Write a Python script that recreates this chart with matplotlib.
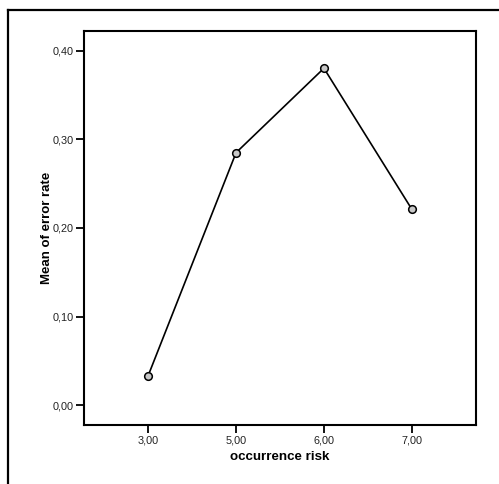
import matplotlib
matplotlib.use("Agg")
import matplotlib.pyplot as plt
from matplotlib.lines import Line2D
from matplotlib.ticker import FuncFormatter

categories = ["3,00", "5,00", "6,00", "7,00"]
mean_error_rate = [0.0334, 0.2848, 0.3800, 0.2210]
y_ticks = [0.0, 0.1, 0.2, 0.3, 0.4]

plt.rcParams['font.family'] = ['Liberation Sans', 'DejaVu Sans']

W, H = 499, 484
fig = plt.figure(figsize=(W / 100, H / 100), dpi=100)
fig.patch.set_facecolor('white')

# outer frame (left and top only visible)
fig.add_artist(Line2D([8 / W, 8 / W], [0, 1 - 10 / H], transform=fig.transFigure,
                      color='black', lw=1.6))
fig.add_artist(Line2D([8 / W, 1], [1 - 10 / H, 1 - 10 / H], transform=fig.transFigure,
                      color='black', lw=1.6))

ax_left, ax_right, ax_top, ax_bottom = 84, 476, 31, 425
ax = fig.add_axes([ax_left / W, 1 - ax_bottom / H, (ax_right - ax_left) / W, (ax_bottom - ax_top) / H])
x = list(range(len(categories)))
ax.plot(x, mean_error_rate, color='black', lw=1.2, marker='o', markersize=5.5,
        markerfacecolor='#c8c8c8', markeredgecolor='black', markeredgewidth=1.1, zorder=3)

ax.set_xlim(-0.73, 3.73)
ax.set_ylim(-0.0222, 0.422)
ax.set_xticks(x)
ax.set_xticklabels(categories)
ax.set_yticks(y_ticks)
ax.yaxis.set_major_formatter(FuncFormatter(lambda v, p: f"{v:.2f}".replace('.', ',')))

for s in ax.spines.values():
    s.set_linewidth(1.5)
ax.tick_params(direction='out', length=6, width=1.3, labelsize=7.8, pad=1.5, colors='black')
for lbl in ax.get_xticklabels() + ax.get_yticklabels():
    lbl.set_color('#222222')

ax.set_xlabel("occurrence risk", fontsize=9.6, fontweight='bold', va='center')
ax.set_ylabel("Mean of error rate", fontsize=9.5, fontweight='bold', va='center')
ax.xaxis.set_label_coords(0.5, (ax_bottom - 457) / (ax_bottom - ax_top))
ax.yaxis.set_label_coords((47 - ax_left) / (ax_right - ax_left), 0.5)

fig.savefig("out.png", dpi=100, facecolor='white')
